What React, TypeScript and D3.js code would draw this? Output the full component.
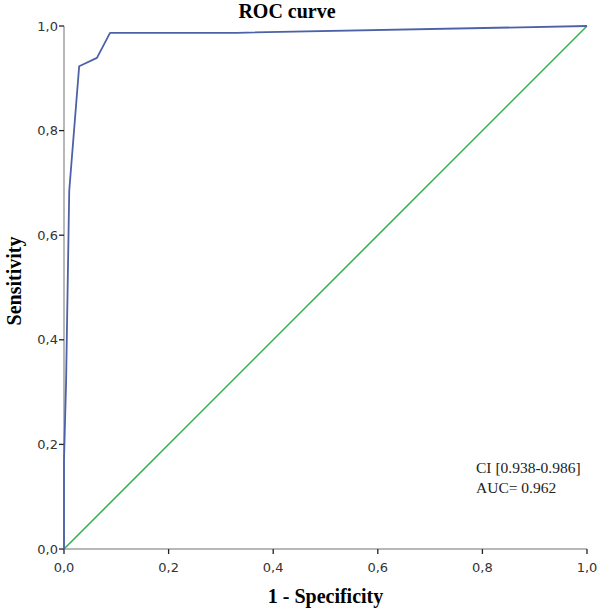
import * as d3 from 'd3';

// ROC curve points (1 - specificity, sensitivity)
const fpr = [0, 0, 0.004, 0.01, 0.029, 0.063, 0.088, 0.33, 1.0];
const tpr = [0, 0.17, 0.32, 0.685, 0.923, 0.939, 0.987, 0.987, 1.0];
const refLine = [0, 1];
const ticks = [0, 0.2, 0.4, 0.6, 0.8, 1.0];
const annotation = ['CI [0.938-0.986]', 'AUC= 0.962'];

const width = 600;
const height = 611;
const margin = { top: 26, right: 13, bottom: 62, left: 64 };

const App = () => {
  const x = d3.scaleLinear().domain([0, 1]).range([margin.left, width - margin.right]);
  const y = d3.scaleLinear().domain([0, 1]).range([height - margin.bottom, margin.top]);
  const fmt = (v: number) => v.toFixed(1).replace('.', ',');

  const roc = d3
    .line<number>()
    .x((_, i) => x(fpr[i]))
    .y((_, i) => y(tpr[i]))(fpr);

  const diag = d3
    .line<number>()
    .x((d) => x(d))
    .y((d) => y(d))(refLine);

  const tickFont = "'DejaVu Sans', Verdana, sans-serif";
  const serif = "'Liberation Serif', 'Times New Roman', serif";

  return (
    <svg
      width={width}
      height={height}
      style={{ position: 'absolute', left: 0, top: 0, background: '#fff' }}
    >
      <text x={287} y={18} textAnchor="middle" fontFamily={serif} fontWeight="bold" fontSize={20}>
        ROC curve
      </text>

      {/* axes */}
      <line x1={x(0)} x2={x(0)} y1={y(0)} y2={y(1)} stroke="#a0a0a0" strokeWidth={1.5} />
      <line x1={x(0)} x2={x(1)} y1={y(0)} y2={y(0)} stroke="#a0a0a0" strokeWidth={1.5} />

      {ticks.map((t) => (
        <g key={'y' + t}>
          <line x1={x(0) - 5} x2={x(0)} y1={y(t)} y2={y(t)} stroke="#222" strokeWidth={1.3} />
          <text
            x={x(0) - 6}
            y={y(t) + 4.5}
            textAnchor="end"
            fontFamily={tickFont}
            fontSize={13}
            fill="#333"
          >
            {fmt(t)}
          </text>
        </g>
      ))}
      {ticks.map((t) => (
        <g key={'x' + t}>
          <line x1={x(t)} x2={x(t)} y1={y(0)} y2={y(0) + 5} stroke="#222" strokeWidth={1.3} />
          <text
            x={x(t)}
            y={y(0) + 23}
            textAnchor="middle"
            fontFamily={tickFont}
            fontSize={13}
            fill="#333"
          >
            {fmt(t)}
          </text>
        </g>
      ))}

      <path d={diag ?? ''} fill="none" stroke="#2fb24c" strokeWidth={1.5} />
      <path d={roc ?? ''} fill="none" stroke="#4b62a8" strokeWidth={1.8} strokeLinejoin="round" />

      {annotation.map((s, i) => (
        <text key={s} x={476} y={473 + i * 20} fontFamily={serif} fontSize={15.5} fill="#222">
          {s}
        </text>
      ))}

      <text
        x={(x(0) + x(1)) / 2}
        y={603}
        textAnchor="middle"
        fontFamily={serif}
        fontWeight="bold"
        fontSize={20}
      >
        1 - Specificity
      </text>
      <text
        transform="translate(21, 281) rotate(-90)"
        textAnchor="middle"
        fontFamily={serif}
        fontWeight="bold"
        fontSize={20}
      >
        Sensitivity
      </text>
    </svg>
  );
};

export default App;
